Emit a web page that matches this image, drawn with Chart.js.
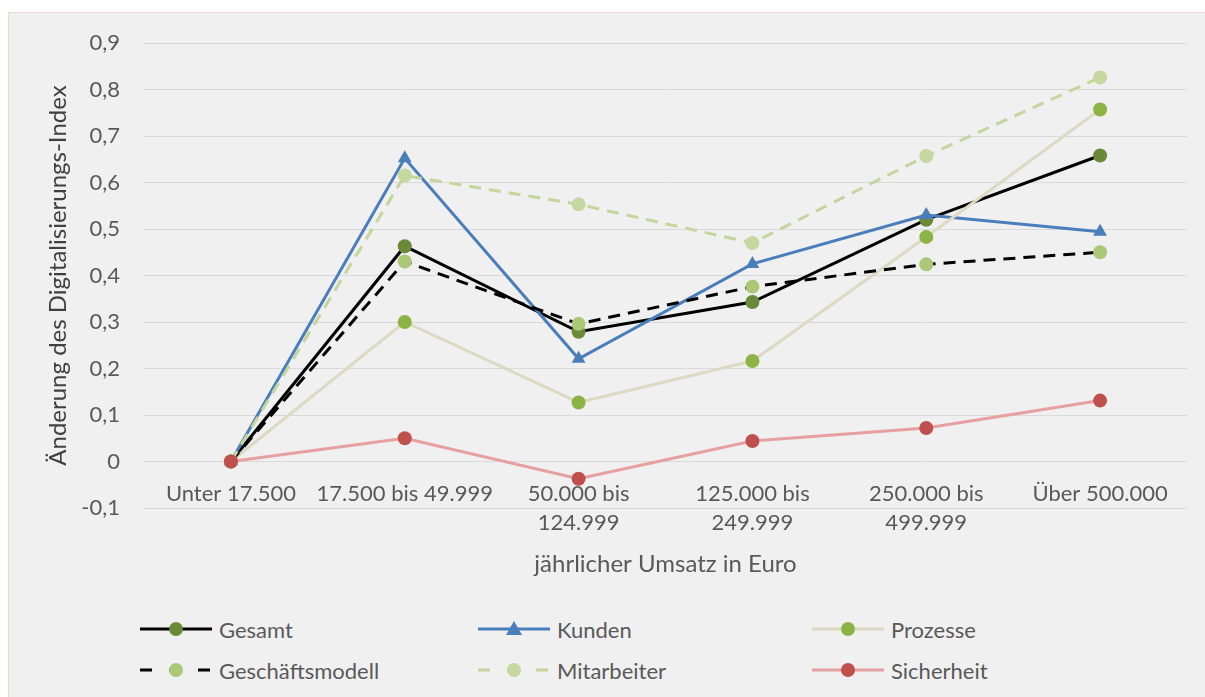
<!DOCTYPE html>
<html>
<head>
<meta charset="utf-8">
<script src="https://cdn.jsdelivr.net/npm/chart.js@4"></script>
<style>
  body { margin: 0; background: #ffffff; font-family: Lato, sans-serif; }
  #rahmen { position: absolute; left: 8px; top: 12px; width: 1220px; height: 720px;
            border: 1px solid #f1d6d6; background: #f0f0f0; }
  #diagramm-box { position: absolute; left: 0; top: 0; width: 1205px; height: 600px; }
  #legende { position: absolute; left: 0; top: 0; }
  .eintrag { position: absolute; height: 26px; display: flex; align-items: center;
             font-size: 22px; color: #595959; white-space: nowrap; }
  .eintrag svg { margin-right: 7px; }
</style>
</head>
<body>
<div id="rahmen"></div>
<div id="diagramm-box"><canvas id="diagramm"></canvas></div>
<div id="legende"></div>
<script>
var kategorien = ['Unter 17.500', '17.500 bis 49.999', ['50.000 bis', '124.999'],
    ['125.000 bis', '249.999'], ['250.000 bis', '499.999'], 'Über 500.000'];

var gesamt          = [0, 0.463, 0.279, 0.343, 0.520, 0.658];
var kunden          = [0, 0.652, 0.221, 0.425, 0.530, 0.494];
var prozesse        = [0, 0.300, 0.127, 0.216, 0.483, 0.757];
var geschaeftsmodell = [0, 0.430, 0.296, 0.376, 0.424, 0.450];
var mitarbeiter     = [0, 0.615, 0.553, 0.470, 0.657, 0.826];
var sicherheit      = [0, 0.050, -0.037, 0.044, 0.072, 0.131];

var yTicks = { min: -0.1, max: 0.9, step: 0.1 };

function serie(label, data, linie, punkt, form, strich, reihenfolge) {
    return {
        label: label,
        data: data,
        borderColor: linie,
        borderWidth: 3,
        borderDash: strich || [],
        pointStyle: form,
        pointRadius: form === 'triangle' ? 8 : 7,
        pointHoverRadius: form === 'triangle' ? 8 : 7,
        pointBackgroundColor: punkt,
        pointBorderColor: punkt,
        pointBorderWidth: 0,
        tension: 0,
        order: reihenfolge
    };
}

var datensaetze = [
    serie('Gesamt', gesamt, '#000000', '#6b8a38', 'circle', null, 6),
    serie('Kunden', kunden, '#4a7ebb', '#4a7ebb', 'triangle', null, 5),
    serie('Prozesse', prozesse, '#ddd9c3', '#8cb445', 'circle', null, 4),
    serie('Geschäftsmodell', geschaeftsmodell, '#000000', '#abc876', 'circle', [12, 8], 3),
    serie('Mitarbeiter', mitarbeiter, '#c3d69b', '#c4d8a0', 'circle', [12, 8], 2),
    serie('Sicherheit', sicherheit, '#e6a0a0', '#c0504d', 'circle', null, 1)
];

var tickSchrift = { family: 'Lato', size: 22 };
var titelSchrift = { family: 'Lato', size: 24 };

var ctx = document.getElementById('diagramm').getContext('2d');
var chart = new Chart(ctx, {
    type: 'line',
    data: { labels: kategorien, datasets: datensaetze },
    options: {
        responsive: true,
        maintainAspectRatio: false,
        animation: false,
        layout: { padding: { top: 43, bottom: 92, left: 0, right: 18 } },
        plugins: { legend: { display: false }, tooltip: { enabled: false } },
        scales: {
            x: {
                position: { y: 0 },
                offset: true,
                grid: { display: false, drawTicks: false },
                border: { display: false },
                ticks: { color: '#595959', font: { family: 'Lato', size: 22, lineHeight: 1.32 }, padding: 18, maxRotation: 0, autoSkip: false },
                title: { display: true, text: 'jährlicher Umsatz in Euro', color: '#595959', font: titelSchrift, padding: { top: -6, bottom: 0 } }
            },
            y: {
                min: yTicks.min,
                max: yTicks.max,
                grid: { color: '#d9d9d9', lineWidth: 1, drawTicks: false },
                border: { display: false },
                ticks: {
                    stepSize: yTicks.step,
                    color: '#595959',
                    font: tickSchrift,
                    padding: 24,
                    callback: function(v) {
                        var r = Math.round(v * 10) / 10;
                        return r === 0 ? '0' : r.toFixed(1).replace('.', ',');
                    }
                },
                title: { display: true, text: 'Änderung des Digitalisierungs-Index', color: '#404040', font: titelSchrift, padding: { top: 44, bottom: 0 } },
                afterFit: function(scale) { scale.width = 144; }
            }
        }
    }
});

// Legende wie im Original in drei Spalten
function legendeBauen() {
    var spaltenX = [140, 478, 812];
    var zeilenY = [616, 657];
    var box = document.getElementById('legende');
    datensaetze.forEach(function(ds, i) {
        var div = document.createElement('div');
        div.className = 'eintrag';
        div.style.left = spaltenX[i % 3] + 'px';
        div.style.top = zeilenY[Math.floor(i / 3)] + 'px';
        var dash = ds.borderDash.length ? 'stroke-dasharray="12 17"' : '';
        var marker = ds.pointStyle === 'triangle'
            ? '<polygon points="36,5 44,19 28,19" fill="' + ds.pointBackgroundColor + '"/>'
            : '<circle cx="36" cy="13" r="7" fill="' + ds.pointBackgroundColor + '"/>';
        div.innerHTML = '<svg width="72" height="26"><line x1="0" y1="13" x2="72" y2="13" stroke="' +
            ds.borderColor + '" stroke-width="3" ' + dash + '/>' + marker + '</svg>' + ds.label;
        box.appendChild(div);
    });
}
legendeBauen();
</script>
</body>
</html>
